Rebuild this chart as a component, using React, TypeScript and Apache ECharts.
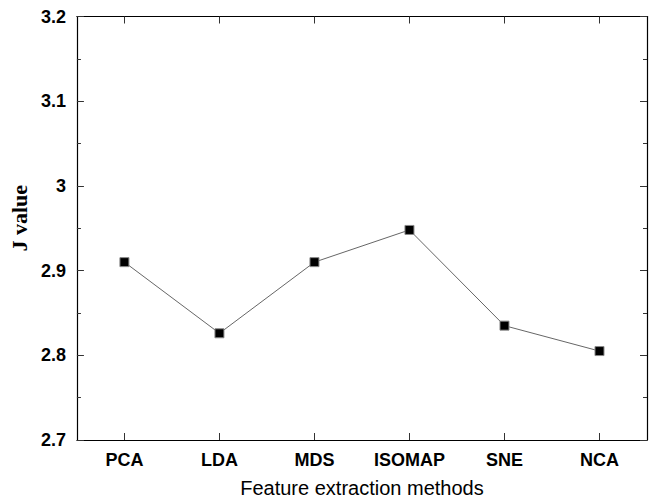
import React, { useEffect, useRef } from "react";
import * as echarts from "echarts";

const categories = ["PCA", "LDA", "MDS", "ISOMAP", "SNE", "NCA"];
const jValues = [2.91, 2.826, 2.91, 2.948, 2.835, 2.805];
const yMin = 2.7;
const yMax = 3.2;
const yInterval = 0.1;

export default function App() {
  const ref = useRef<HTMLDivElement>(null);
  useEffect(() => {
    if (!ref.current) return;
    const chart = echarts.init(ref.current, null, { renderer: "svg" });
    const axisLine = { show: true, lineStyle: { color: "#000", width: 1.2 } };
    const tickStyle = { color: "#333", width: 1 };
    chart.setOption({
      animation: false,
      backgroundColor: "#fff",
      grid: { left: 71, right: 4, top: 16.5, bottom: 59, containLabel: false },
      xAxis: [
        {
          type: "category",
          data: categories,
          position: "bottom",
          boundaryGap: true,
          axisLine,
          axisTick: { show: true, inside: true, length: 7, alignWithLabel: true, lineStyle: tickStyle },
          axisLabel: {
            margin: 11,
            color: "#000",
            fontFamily: "Liberation Sans, Arial, sans-serif",
            fontWeight: "bold",
            fontSize: 18,
          },
          splitLine: { show: false },
          name: "Feature extraction methods",
          nameLocation: "middle",
          nameGap: 38,
          nameTextStyle: { color: "#000", fontFamily: "Liberation Sans, Arial, sans-serif", fontSize: 20 },
        },
        {
          type: "category",
          data: categories,
          position: "top",
          boundaryGap: true,
          axisLine,
          axisTick: { show: true, inside: true, length: 7, alignWithLabel: true, lineStyle: tickStyle },
          axisLabel: { show: false },
          splitLine: { show: false },
        },
      ],
      yAxis: [
        {
          type: "value",
          min: yMin,
          max: yMax,
          interval: yInterval,
          position: "left",
          axisLine,
          axisTick: { show: true, inside: true, length: 7, lineStyle: tickStyle },
          minorTick: { show: true, splitNumber: 2, length: 4, lineStyle: tickStyle },
          axisLabel: {
            margin: 11,
            color: "#000",
            fontFamily: "Liberation Sans, Arial, sans-serif",
            fontWeight: "bold",
            fontSize: 18,
            formatter: (v: number) => String(parseFloat(v.toFixed(2))),
          },
          splitLine: { show: false },
          name: "J value",
          nameLocation: "middle",
          nameGap: 42,
          nameTextStyle: {
            color: "#000000",
            fontFamily: "Liberation Serif, Times New Roman, serif",
            fontWeight: "bold",
            fontSize: 22,
            padding: [0, 0, 0, 20],
          },
        },
        {
          type: "value",
          min: yMin,
          max: yMax,
          interval: yInterval,
          position: "right",
          axisLine,
          axisTick: { show: true, inside: true, length: 7, lineStyle: tickStyle },
          minorTick: { show: true, splitNumber: 2, length: 4, lineStyle: tickStyle },
          axisLabel: { show: false },
          splitLine: { show: false },
        },
      ],
      series: [
        {
          type: "line",
          data: jValues,
          xAxisIndex: 0,
          yAxisIndex: 0,
          symbol: "rect",
          symbolSize: 9,
          itemStyle: { color: "#000", borderColor: "#888", borderWidth: 1 },
          lineStyle: { color: "#666", width: 1 },
        },
      ],
    });
    return () => chart.dispose();
  }, []);
  return <div ref={ref} style={{ width: 651, height: 503, position: "absolute", left: 0, top: 0 }} />;
}
